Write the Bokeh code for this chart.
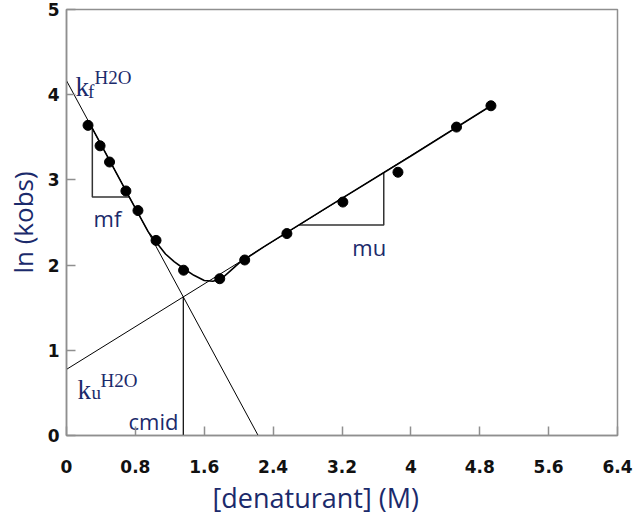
from bokeh.plotting import figure
from bokeh.models import FixedTicker, NumeralTickFormatter, Range1d, Title
from bokeh.core.properties import value
from bokeh.embed import file_html
from bokeh.resources import INLINE

# Observed rate constants, ln(kobs), against denaturant concentration (M)
denaturant = [0.25, 0.39, 0.50, 0.69, 0.83, 1.04, 1.36, 1.78, 2.07, 2.56, 3.21, 3.85, 4.53, 4.93]
ln_kobs = [3.64, 3.40, 3.21, 2.87, 2.64, 2.29, 1.94, 1.84, 2.06, 2.37, 2.74, 3.09, 3.62, 3.87]

# Chevron fit drawn through the data
fit_x = [0.25, 0.50, 0.75, 0.95, 1.04, 1.15, 1.25, 1.36, 1.48, 1.60, 1.70, 1.80, 1.90, 2.00, 2.30, 3.00, 4.00, 4.93]
fit_y = [3.70, 3.23, 2.76, 2.39, 2.27, 2.13, 2.04, 1.96, 1.88, 1.82, 1.81, 1.84, 1.93, 2.02, 2.22, 2.66, 3.28, 3.87]

# Linear arms: folding arm (intercept ln kf H2O, meets zero at fold_x0),
# unfolding arm (intercept ln ku H2O, drawn up to unfold_end)
fold_y0 = 4.165
fold_x0 = 2.226
unfold_y0 = 0.776
unfold_end_x, unfold_end_y = 4.95, 3.88

x_ticks = [0, 0.8, 1.6, 2.4, 3.2, 4, 4.8, 5.6, 6.4]
y_ticks = [0, 1, 2, 3, 4, 5]

m_f = -fold_y0 / fold_x0
m_u = (unfold_end_y - unfold_y0) / unfold_end_x


def fold(x):
    return fold_y0 + m_f * x


def unfold(x):
    return unfold_y0 + m_u * x


c_mid = (fold_y0 - unfold_y0) / (m_u - m_f)

NAVY = "#1b2a6b"
FRAME = "#8f8f8f"

p = figure(width=639, height=517, output_backend="svg", toolbar_location=None,
           x_range=Range1d(0, 6.4), y_range=Range1d(0, 5))
p.min_border_left = 66
p.min_border_right = 22
p.min_border_top = 9
p.min_border_bottom = 82
p.background_fill_color = "white"
p.border_fill_color = "white"
p.outline_line_color = FRAME
p.outline_line_width = 1.5
p.grid.visible = False

for ax, ticks in ((p.xaxis[0], x_ticks), (p.yaxis[0], y_ticks)):
    ax.ticker = FixedTicker(ticks=ticks)
    ax.formatter = NumeralTickFormatter(format="0.[0]")
    ax.axis_line_color = FRAME
    ax.axis_line_width = 1.5
    ax.major_tick_line_color = FRAME
    ax.major_tick_line_width = 1.5
    ax.major_tick_in = 9
    ax.major_tick_out = 0
    ax.minor_tick_line_color = None
    ax.major_label_text_font = "DejaVu Sans"
    ax.major_label_text_font_style = "bold"
    ax.major_label_text_font_size = "17px"
    ax.major_label_text_color = "#111111"

p.xaxis.major_label_standoff = 24
p.yaxis.major_label_standoff = 7

p.yaxis.axis_label = "ln (kobs)"
p.yaxis.axis_label_text_font = "Open Sans"
p.yaxis.axis_label_text_font_style = "normal"
p.yaxis.axis_label_text_font_size = "26px"
p.yaxis.axis_label_text_color = NAVY
p.yaxis.axis_label_standoff = 4

# x-axis title, placed left of the frame centre
p.add_layout(Title(text="[denaturant] (M)", align="left", offset=146, standoff=3,
                   text_font="Open Sans", text_font_size="27px", text_font_style="normal",
                   text_color=NAVY), "below")

# linear arms and the midpoint marker
p.line([0, fold_x0], [fold_y0, 0], line_color="black", line_width=1)
p.line([0, unfold_end_x], [unfold_y0, unfold_end_y], line_color="black", line_width=1)
p.line([c_mid, c_mid], [0, fold(c_mid)], line_color="black", line_width=1.2)

# slope triangles
mf_x, mf_low = 0.30, 2.80
p.line([mf_x, mf_x, (mf_low - fold_y0) / m_f], [fold(mf_x), mf_low, mf_low],
       line_color="#333333", line_width=1.5)
mu_x, mu_low = 3.685, 2.47
p.line([(mu_low - unfold_y0) / m_u, mu_x, mu_x], [mu_low, mu_low, unfold(mu_x)],
       line_color="#333333", line_width=1.5)

# fitted curve and data
p.line(fit_x, fit_y, line_color="black", line_width=1.6)
p.scatter(denaturant, ln_kobs, size=10, color="black")

# labels
serif = value("Liberation Serif")
sans = value("Open Sans")
p.text(x=[0.105, 0.128], y=[4.094, 0.529], text=["k", "k"], text_font=serif,
       text_font_size="27px", text_color=NAVY, text_baseline="alphabetic")
p.text(x=[0.25, 0.29], y=[4.035, 0.506], text=["f", "u"], text_font=serif,
       text_font_size="19px", text_color=NAVY, text_baseline="alphabetic")
p.text(x=[0.325, 0.395], y=[4.20, 0.647], text=["H2O", "H2O"], text_font=serif,
       text_font_size="19px", text_color=NAVY, text_baseline="alphabetic")
p.text(x=[0.72, 0.314, 3.32], y=[0.176, 2.553, 2.212], text=["cmid", "mf", "mu"],
       text_font=sans, text_font_size="22px", text_color=NAVY, text_baseline="alphabetic")

open("out.html", "w").write(file_html(p, INLINE))
